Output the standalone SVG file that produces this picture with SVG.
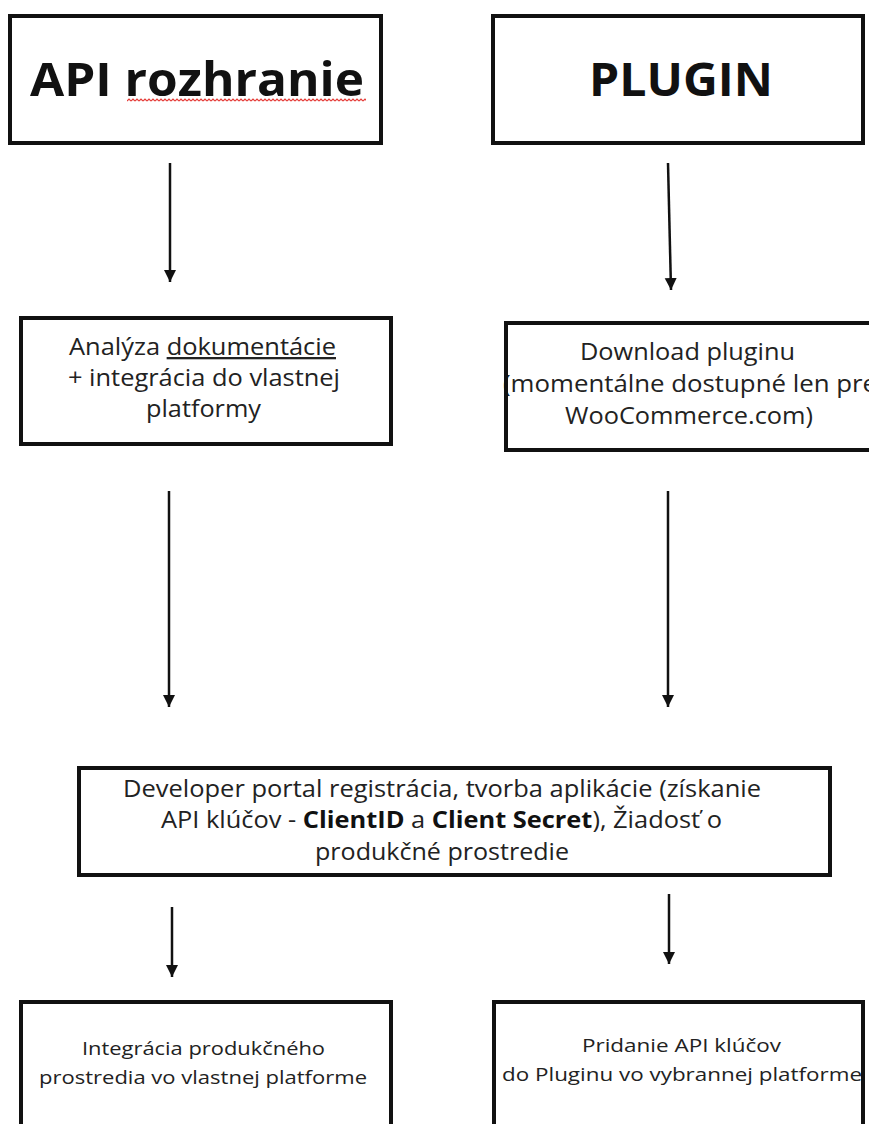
<svg xmlns="http://www.w3.org/2000/svg" width="869" height="1124" viewBox="0 0 869 1124">
<style>
.box{fill:none;stroke:#111;stroke-width:4}
.t{font-family:"Open Sans","Noto Sans",sans-serif;fill:#222;font-size:23px}
.s{font-size:19px}
.h{font-family:"Open Sans","Noto Sans",sans-serif;font-weight:700;font-size:47px;fill:#111}
.b{font-weight:700;fill:#111}
.c{stroke:#111;stroke-width:2.5;fill:none}
</style>
<defs>
<marker id="ah" viewBox="0 0 10 10" refX="10" refY="5" markerWidth="4.8" markerHeight="6" markerUnits="strokeWidth" orient="auto">
<path d="M0,0 L10,5 L0,10 Z" fill="#111"/>
</marker>
<pattern id="sq" x="127" y="98" width="4" height="4" patternUnits="userSpaceOnUse">
<path d="M0,3 L2,1 L4,3" fill="none" stroke="#e53935" stroke-width="1.2"/>
</pattern>
</defs>
<rect width="869" height="1124" fill="#fff"/>
<g id="connectors">
<line class="c" x1="170" y1="163" x2="170" y2="282" marker-end="url(#ah)"/>
<line class="c" x1="668" y1="163" x2="671" y2="290" marker-end="url(#ah)"/>
<line class="c" x1="169" y1="491" x2="169" y2="707" marker-end="url(#ah)"/>
<line class="c" x1="668" y1="491" x2="668" y2="707" marker-end="url(#ah)"/>
<line class="c" x1="172" y1="907" x2="172" y2="977" marker-end="url(#ah)"/>
<line class="c" x1="669" y1="894" x2="669" y2="964" marker-end="url(#ah)"/>
</g>
<g id="api">
<rect class="box" x="10" y="16" width="371" height="127"/>
<text class="h" x="30" y="96" textLength="334" lengthAdjust="spacingAndGlyphs">API rozhranie</text>
<rect x="127" y="98" width="239" height="4" fill="url(#sq)"/>
</g>
<g id="plugin">
<rect class="box" x="493" y="16" width="370" height="127"/>
<text class="h" x="589" y="96" textLength="184" lengthAdjust="spacingAndGlyphs">PLUGIN</text>
</g>
<g id="analyza">
<rect class="box" x="21" y="318" width="370" height="126"/>
<text class="t" x="69" y="355" textLength="267" lengthAdjust="spacingAndGlyphs">Analýza <tspan text-decoration="underline">dokumentácie</tspan></text>
<text class="t" x="68" y="386" textLength="272" lengthAdjust="spacingAndGlyphs">+ integrácia do vlastnej</text>
<text class="t" x="146" y="417" textLength="115" lengthAdjust="spacingAndGlyphs">platformy</text>
</g>
<g id="download">
<text class="t" x="580" y="360" textLength="215" lengthAdjust="spacingAndGlyphs">Download pluginu</text>
<text class="t" x="503" y="392" textLength="374" lengthAdjust="spacingAndGlyphs">(momentálne dostupné len pre</text>
<text class="t" x="565" y="424" textLength="248" lengthAdjust="spacingAndGlyphs">WooCommerce.com)</text>
<rect class="box" x="506" y="323" width="380" height="127"/>
</g>
<g id="developer">
<rect class="box" x="79" y="768" width="751" height="107"/>
<text class="t" x="123" y="797" textLength="638" lengthAdjust="spacingAndGlyphs">Developer portal registrácia, tvorba aplikácie (získanie</text>
<text class="t" x="161" y="828" textLength="561" lengthAdjust="spacingAndGlyphs">API klúčov - <tspan class="b">ClientID</tspan> a <tspan class="b">Client Secret</tspan>), Žiadosť o</text>
<text class="t" x="315" y="860" textLength="254" lengthAdjust="spacingAndGlyphs">produkčné prostredie</text>
</g>
<g id="integracia">
<rect class="box" x="21" y="1002" width="370" height="140"/>
<text class="t s" x="82" y="1055" textLength="243" lengthAdjust="spacingAndGlyphs">Integrácia produkčného</text>
<text class="t s" x="39" y="1084" textLength="328" lengthAdjust="spacingAndGlyphs">prostredia vo vlastnej platforme</text>
</g>
<g id="pridanie">
<text class="t s" x="582" y="1052" textLength="199" lengthAdjust="spacingAndGlyphs">Pridanie API klúčov</text>
<text class="t s" x="502" y="1081" textLength="360" lengthAdjust="spacingAndGlyphs">do Pluginu vo vybrannej platforme</text>
<rect class="box" x="494" y="1002" width="369" height="140"/>
</g>
</svg>
